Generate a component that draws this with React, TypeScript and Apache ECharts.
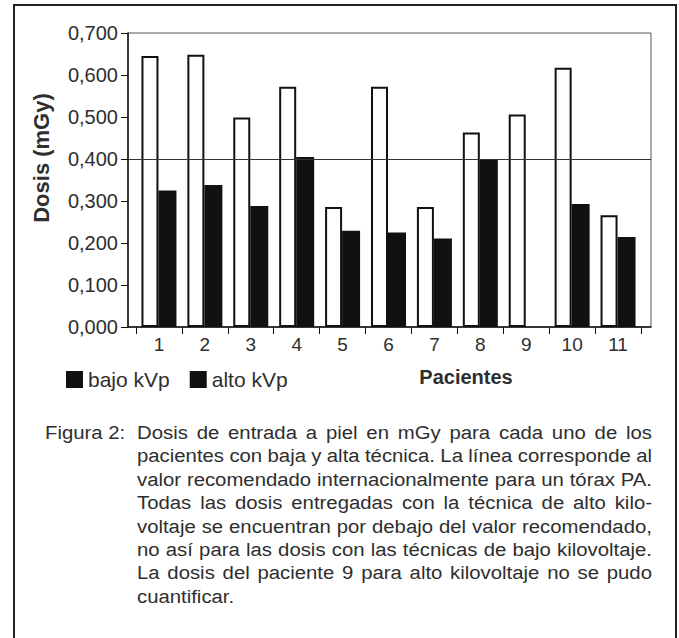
import React, { useEffect, useRef } from "react";
import * as echarts from "echarts";

const categories = ["1", "2", "3", "4", "5", "6", "7", "8", "9", "10", "11"];
const bajoKVp = [0.645, 0.648, 0.499, 0.572, 0.286, 0.572, 0.286, 0.463, 0.506, 0.617, 0.266];
const altoKVp: (number | null)[] = [0.325, 0.338, 0.288, 0.405, 0.229, 0.225, 0.211, 0.399, null, 0.293, 0.214];
const referenceValue = 0.4;
const seriesNames = ["bajo kVp", "alto kVp"];
const yAxisName = "Dosis (mGy)";
const xAxisName = "Pacientes";
const captionLabel = "Figura 2:";
const captionLines = [
  "Dosis de entrada a piel en mGy para cada uno de los",
  "pacientes con baja y alta técnica. La línea corresponde al",
  "valor recomendado internacionalmente para un tórax PA.",
  "Todas las dosis entregadas con la técnica de alto kilo-",
  "voltaje se encuentran por debajo del valor recomendado,",
  "no así para las dosis con las técnicas de bajo kilovoltaje.",
  "La dosis del paciente 9 para alto kilovoltaje no se pudo",
  "cuantificar.",
];

const FONT = '"Liberation Sans", Arial, Helvetica, sans-serif';
const TEXT = "#2e2e2e";
const INK = "#111";

function buildCaption(): any[] {
  const els: any[] = [];
  const fontSize = 18;
  const baseScale = 1.13;
  const left = 137;
  const right = 652;
  const W = right - left;
  const top = 433;
  const lh = 23.4;
  const canvas = document.createElement("canvas");
  const ctx = canvas.getContext("2d")!;
  ctx.font = `${fontSize}px ${FONT}`;
  els.push({
    type: "text",
    x: 45,
    y: top,
    scaleX: baseScale,
    style: { text: captionLabel, font: `${fontSize}px ${FONT}`, fill: TEXT, textVerticalAlign: "middle" },
  });
  captionLines.forEach((line, i) => {
    const y = top + i * lh;
    const last = i === captionLines.length - 1;
    const words = line.split(" ");
    const widths = words.map((w) => ctx.measureText(w).width);
    const sum = widths.reduce((a, b) => a + b, 0);
    const minSpace = fontSize * 0.22;
    let scale = baseScale;
    if (!last && sum * scale + minSpace * (words.length - 1) > W) {
      scale = (W - minSpace * (words.length - 1)) / sum;
    }
    const space = last
      ? ctx.measureText(" ").width * scale
      : (W - sum * scale) / (words.length - 1);
    let x = left;
    words.forEach((w, j) => {
      els.push({
        type: "text",
        x,
        y,
        scaleX: scale,
        style: { text: w, font: `${fontSize}px ${FONT}`, fill: TEXT, textVerticalAlign: "middle" },
      });
      x += widths[j] * scale + space;
    });
  });
  return els;
}

export default function App() {
  const ref = useRef<HTMLDivElement>(null);
  useEffect(() => {
    if (!ref.current) return;
    const chart = echarts.init(ref.current, null, { renderer: "svg" });
    const plotTop = 33;
    const plotBottom = 638 - 327;
    const option: any = {
      animation: false,
      backgroundColor: "#fff",
      textStyle: { fontFamily: FONT },
      grid: [
        // bar area (categories)
        { left: 136, right: 679 - 641, top: plotTop, bottom: plotBottom, show: false },
        // plot frame
        {
          left: 128,
          right: 679 - 651,
          top: plotTop,
          bottom: plotBottom,
          show: true,
          borderColor: "#555",
          borderWidth: 1,
          backgroundColor: "transparent",
        },
      ],
      legend: {
        left: 61,
        top: 364,
        icon: "rect",
        itemWidth: 17,
        itemHeight: 17,
        itemGap: 20,
        textStyle: { fontSize: 21, color: TEXT, fontFamily: FONT },
        data: seriesNames.map((n) => ({ name: n, itemStyle: { color: INK, borderWidth: 0 } })),
      },
      xAxis: [
        {
          type: "category",
          gridIndex: 0,
          data: categories,
          name: xAxisName,
          nameLocation: "middle",
          nameGap: 40,
          nameTextStyle: { fontSize: 20, fontWeight: "bold", color: TEXT, padding: [0, 0, 0, 155] },
          axisLine: { show: false },
          axisTick: { show: true, length: 7, lineStyle: { color: INK } },
          axisLabel: { fontSize: 19, color: TEXT, margin: 8 },
        },
        {
          type: "value",
          gridIndex: 1,
          min: 0,
          max: 1,
          axisLine: { show: true, lineStyle: { color: INK, width: 1.5 } },
          axisTick: { show: false },
          axisLabel: { show: false },
          splitLine: { show: false },
        },
      ],
      yAxis: [
        {
          type: "value",
          gridIndex: 0,
          min: 0,
          max: 0.7,
          interval: 0.1,
          show: false,
        },
        {
          type: "value",
          gridIndex: 1,
          min: 0,
          max: 0.7,
          interval: 0.1,
          name: yAxisName,
          nameLocation: "middle",
          nameRotate: 90,
          nameGap: 76,
          nameTextStyle: { fontSize: 22, fontWeight: "bold", color: TEXT, padding: [0, 0, 0, 44] },
          axisLine: { show: true, lineStyle: { color: INK, width: 1.5 } },
          axisTick: { show: true, length: 7, lineStyle: { color: INK } },
          splitLine: { show: false },
          axisLabel: {
            fontSize: 20,
            color: TEXT,
            margin: 10,
            formatter: (v: number) => v.toFixed(3).replace(".", ","),
          },
        },
      ],
      series: [
        {
          name: seriesNames[0],
          type: "bar",
          xAxisIndex: 0,
          yAxisIndex: 0,
          data: bajoKVp,
          barWidth: 17,
          barGap: "0%",
          itemStyle: { color: "#fff", borderColor: INK, borderWidth: 2 },
          z: 2,
        },
        {
          name: seriesNames[1],
          type: "bar",
          xAxisIndex: 0,
          yAxisIndex: 0,
          data: altoKVp.map((v) => (v === null ? "-" : v)),
          barWidth: 18,
          itemStyle: { color: INK },
          z: 2,
        },
        {
          type: "line",
          xAxisIndex: 1,
          yAxisIndex: 1,
          data: [],
          markLine: {
            silent: true,
            symbol: "none",
            label: { show: false },
            lineStyle: { color: "#333", width: 1.2, type: "solid" },
            data: [{ yAxis: referenceValue }],
          },
          z: 1,
        },
      ],
      graphic: [
        {
          type: "rect",
          shape: { x: 14, y: 5, width: 662, height: 700 },
          style: { fill: "none", stroke: "#222", lineWidth: 2 },
          silent: true,
        },
        ...buildCaption(),
      ],
    };
    chart.setOption(option);
    return () => chart.dispose();
  }, []);
  return (
    <div
      ref={ref}
      style={{ position: "absolute", left: 0, top: 0, width: 679, height: 638 }}
    />
  );
}
